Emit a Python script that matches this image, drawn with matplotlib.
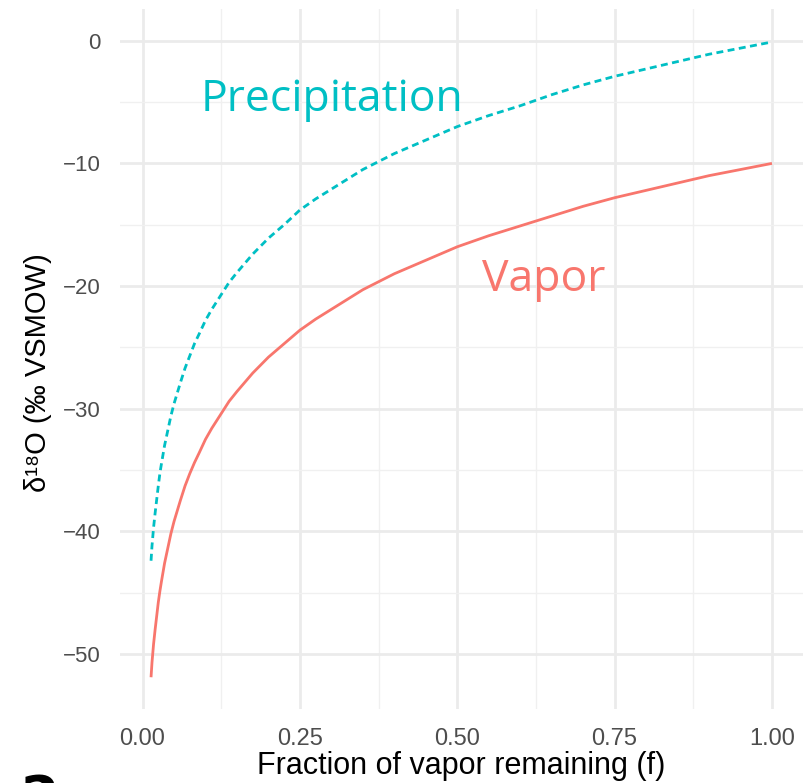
import matplotlib
matplotlib.use("Agg")
import matplotlib.pyplot as plt
from matplotlib.ticker import MultipleLocator

# Fraction of vapor remaining (f)
frac_remaining = [0.0135, 0.015, 0.0175, 0.02, 0.0225, 0.025, 0.0275, 0.03, 0.035, 0.04,
                  0.045, 0.05, 0.06, 0.0675, 0.075, 0.0825, 0.09, 0.1, 0.11, 0.125,
                  0.1375, 0.15, 0.175, 0.2, 0.225, 0.25, 0.275, 0.3, 0.35, 0.4,
                  0.45, 0.5, 0.55, 0.6, 0.65, 0.7, 0.75, 0.8, 0.85, 0.9, 0.95, 1.0]

# d18O of the remaining vapor (permil VSMOW)
vapor_d18o = [-51.9, -50.7, -49.2, -48.0, -46.9, -45.8, -44.9, -44.1, -42.6, -41.4,
              -40.2, -39.2, -37.5, -36.3, -35.3, -34.4, -33.6, -32.5, -31.6, -30.4,
              -29.4, -28.6, -27.1, -25.8, -24.7, -23.6, -22.7, -21.9, -20.3, -19.0,
              -17.9, -16.8, -15.9, -15.1, -14.3, -13.5, -12.8, -12.2, -11.6, -11.0,
              -10.5, -10.0]

# d18O of the precipitation formed from it
precip_d18o = [-42.4, -41.2, -39.7, -38.5, -37.4, -36.3, -35.3, -34.5, -33.0, -31.8,
               -30.6, -29.6, -27.9, -26.7, -25.7, -24.7, -23.9, -22.8, -21.9, -20.7,
               -19.7, -18.9, -17.4, -16.1, -15.0, -13.8, -12.9, -12.1, -10.5, -9.2,
               -8.1, -7.0, -6.1, -5.3, -4.4, -3.6, -2.9, -2.3, -1.7, -1.1,
               -0.6, -0.1]

x_ticks = [0.0, 0.25, 0.5, 0.75, 1.0]
y_ticks = [0, -10, -20, -30, -40, -50]

VAPOR_COL = "#F8766D"
PRECIP_COL = "#00BFC4"


def main():
    fig = plt.figure(figsize=(8.08, 7.83), dpi=100)
    ax = fig.add_axes([120 / 808, 1 - 709 / 783, 683 / 808, 700 / 783])

    ax.plot(frac_remaining, vapor_d18o, color=VAPOR_COL, lw=2.0, solid_capstyle="butt")
    ax.plot(frac_remaining, precip_d18o, color=PRECIP_COL, lw=2.0,
            dashes=(2.5, 1.6), dash_capstyle="butt")

    # direct labels instead of a legend
    ax.text(0.301, -5.7, "Precipitation", color=PRECIP_COL, fontsize=32,
            family="Open Sans", ha="center", va="baseline")
    ax.text(0.638, -20.4, "Vapor", color=VAPOR_COL, fontsize=32,
            family="Open Sans", ha="center", va="baseline")

    # ggplot-style expansion of 5% on each side
    xmin, xmax = min(frac_remaining), max(frac_remaining)
    ymin, ymax = min(vapor_d18o), max(precip_d18o)
    dx, dy = 0.05 * (xmax - xmin), 0.05 * (ymax - ymin)
    ax.set_xlim(xmin - dx, xmax + dx)
    ax.set_ylim(ymin - dy, 0 + dy)

    ax.set_xticks(x_ticks)
    ax.set_xticklabels(["%.2f" % t for t in x_ticks])
    ax.set_yticks(y_ticks)
    ax.set_yticklabels([("\u2212%d" % -t) if t < 0 else "0" for t in y_ticks])
    ax.xaxis.set_minor_locator(MultipleLocator(0.125))
    ax.yaxis.set_minor_locator(MultipleLocator(5))

    ax.grid(which="major", color="#EBEBEB", lw=2.0)
    ax.grid(which="minor", color="#F0F0F0", lw=1.0)
    ax.set_axisbelow(True)
    for s in ax.spines.values():
        s.set_visible(False)
    ax.tick_params(which="both", length=0)
    ax.tick_params(axis="x", pad=14, labelsize=17, labelcolor="#4D4D4D")
    ax.tick_params(axis="y", pad=14, labelsize=16, labelcolor="#4D4D4D")
    for lab in ax.get_xticklabels() + ax.get_yticklabels():
        lab.set_family("Liberation Sans")

    ax.set_xlabel("Fraction of vapor remaining (f)", fontsize=22,
                  family=["Liberation Sans", "DejaVu Sans"])
    ax.xaxis.set_label_coords(0.5, -0.06)
    ax.set_ylabel("\u03b4\u00b9\u2078O (\u2030 VSMOW)", fontsize=21,
                  family=["Liberation Sans", "DejaVu Sans"])
    ax.yaxis.set_label_coords(-0.1, 0.481)

    # panel number cut off at the lower left edge
    fig.text(40 / 808, -0.056, "2", fontsize=40, fontweight="bold",
             family="DejaVu Sans", ha="center", va="bottom")

    fig.savefig("out.png", dpi=100)


if __name__ == "__main__":
    main()
